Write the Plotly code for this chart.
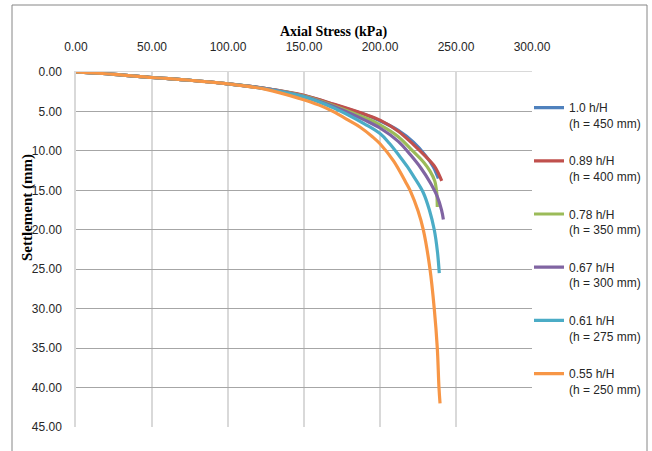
import plotly.graph_objects as go

# ---- data ----
names = ["1.0 h/H<br>(h = 450 mm)", "0.89 h/H<br>(h = 400 mm)", "0.78 h/H<br>(h = 350 mm)",
         "0.67 h/H<br>(h = 300 mm)", "0.61 h/H<br>(h = 275 mm)", "0.55 h/H<br>(h = 250 mm)"]
colors = ["#4F81BD", "#C0504D", "#9BBB59", "#8064A2", "#4BACC6", "#F79646"]

stress_10 = [0, 25, 50, 75, 100, 125, 150, 170, 190, 200, 212, 222, 230, 235, 238.4]
settle_10 = [0, 0.3, 0.7, 1.05, 1.5, 2.1, 3.0, 4.15, 5.4, 6.2, 7.4, 8.9, 10.6, 12.0, 13.5]

stress_089 = [0, 25, 50, 75, 100, 125, 150, 170, 190, 200, 212, 222, 230, 236, 240.6]
settle_089 = [0, 0.3, 0.7, 1.05, 1.5, 2.1, 2.95, 4.1, 5.35, 6.1, 7.5, 9.2, 10.7, 12.0, 13.8]

stress_078 = [0, 25, 50, 75, 100, 125, 150, 170, 190, 200, 212, 222, 229, 233, 236, 237.3, 237.7]
settle_078 = [0, 0.3, 0.7, 1.05, 1.5, 2.1, 3.05, 4.3, 5.8, 6.7, 8.2, 10.1, 11.5, 12.6, 13.8, 15.3, 17.1]

stress_067 = [0, 25, 50, 75, 100, 125, 150, 170, 190, 200, 212, 220, 227, 233, 237.5, 240.5, 241.7]
settle_067 = [0, 0.3, 0.7, 1.05, 1.5, 2.1, 3.1, 4.4, 6.1, 7.1, 8.8, 10.5, 12.2, 14.0, 15.7, 17.5, 18.7]

stress_061 = [0, 25, 50, 75, 100, 125, 150, 170, 190, 200, 206, 213, 218, 222, 228.5, 232.5, 235.7, 237.8, 239]
settle_061 = [0, 0.3, 0.7, 1.05, 1.5, 2.15, 3.15, 4.6, 6.6, 7.8, 9.0, 10.7, 12.0, 13.2, 15.3, 17.5, 20.0, 22.8, 25.5]

stress_055 = [0, 25, 50, 75, 100, 125, 147, 160, 169, 180, 187, 195, 200, 209, 217, 220, 225, 228.5, 232.9, 235.7, 237.7, 238.8, 239.5]
settle_055 = [0, 0.3, 0.7, 1.05, 1.5, 2.2, 3.35, 4.2, 5.0, 6.2, 7.0, 8.2, 9.1, 11.3, 14.0, 15.1, 17.6, 20.0, 25.0, 30.0, 35.0, 40.0, 42.0]

series_x = [stress_10, stress_089, stress_078, stress_067, stress_061, stress_055]
series_y = [settle_10, settle_089, settle_078, settle_067, settle_061, settle_055]

x_ticks = [0, 50, 100, 150, 200, 250, 300]
y_ticks = [0, 5, 10, 15, 20, 25, 30, 35, 40, 45]

fig = go.Figure()
for i in range(len(names)):
    fig.add_trace(go.Scatter(
        x=series_x[i], y=series_y[i], name=names[i], mode="lines",
        line=dict(color=colors[i], width=3.2, shape="spline", smoothing=1.0),
        legendgroup=f"g{i}",
    ))

tick_font = dict(family="Liberation Sans Narrow, Liberation Sans, Arial, sans-serif", size=12, color="#262626")

fig.update_layout(
    width=652, height=451,
    margin=dict(l=76, r=120, t=72, b=24, autoexpand=False),
    paper_bgcolor="white", plot_bgcolor="white",
    showlegend=True,
    legend=dict(x=(529 - 76) / 456, xanchor="left", y=0.94, yanchor="top",
                font=dict(family="Liberation Sans Narrow, Liberation Sans, Arial, sans-serif", size=12, color="#262626"),
                tracegroupgap=19, itemwidth=30, valign="top", bgcolor="rgba(0,0,0,0)"),
    xaxis=dict(side="top", range=[0, 300], tickvals=x_ticks, tickformat=".2f",
               showgrid=True, gridcolor="#D9D9D9", gridwidth=1.5,
               showline=True, linecolor="#D9D9D9", linewidth=1,
               ticks="", tickfont=tick_font, ticklabelstandoff=15, zeroline=False),
    yaxis=dict(range=[45, 0], tickvals=y_ticks, tickformat=".2f",
               showgrid=True, gridcolor="#A6A6A6", gridwidth=1,
               showline=True, linecolor="#D9D9D9", linewidth=1.5,
               ticks="", tickfont=tick_font, ticklabelstandoff=10, zeroline=False),
    annotations=[
        dict(text="<b>Axial Stress (kPa)</b>", xref="paper", yref="paper",
             x=(333 - 76) / 456, y=(427 - 32) / 355, xanchor="center", yanchor="middle",
             showarrow=False,
             font=dict(family="Liberation Serif, Times New Roman, serif", size=14, color="#000000")),
        dict(text="<b>Settlement (mm)</b>", xref="paper", yref="paper",
             x=(27 - 76) / 456, y=(427 - 208) / 355, xanchor="center", yanchor="middle",
             showarrow=False, textangle=-90,
             font=dict(family="Liberation Serif, Times New Roman, serif", size=15, color="#000000")),
    ],
    shapes=[
        dict(type="rect", xref="paper", yref="paper",
             x0=(12 - 76) / 456, x1=(647 - 76) / 456,
             y0=(427 - 460) / 355, y1=(427 - 5) / 355,
             line=dict(color="#868686", width=1), fillcolor="rgba(0,0,0,0)", layer="below"),
    ],
)

fig.write_html("out.html")
